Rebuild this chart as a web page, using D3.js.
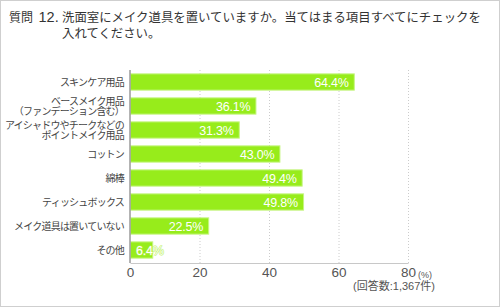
<!DOCTYPE html>
<html>
<head>
<meta charset="utf-8">
<script src="https://cdn.jsdelivr.net/npm/d3@7"></script>
<style>
    body { margin: 0; background: #fff; }
    svg { display: block; font-family: "Liberation Sans", "Noto Sans CJK JP", sans-serif; }
</style>
</head>
<body>
<div id="chart"></div>
<script>
const questionNo = "12.";
const questionLines = ["洗面室にメイク道具を置いていますか。当てはまる項目すべてにチェックを", "入れてください。"];
const categories = [
    "スキンケア用品",
    "ベースメイク用品\n（ファンデーション含む）",
    "アイシャドウやチークなどの\nポイントメイク用品",
    "コットン",
    "綿棒",
    "ティッシュボックス",
    "メイク道具は置いていない",
    "その他"
];
const values = [64.4, 36.1, 31.3, 43.0, 49.4, 49.8, 22.5, 6.4];
const ticks = [0, 20, 40, 60, 80];
const unitLabel = "(%)";
const countLabel = "(回答数:1,367件)";

document.addEventListener('DOMContentLoaded', () => {
    let width = 500, height = 308;
    let left = 130, right = 408, top = 70, bottom = 262;

    let svg = d3.select("#chart")
        .append("svg")
        .attr("width", width)
        .attr("height", height);

    // frame
    svg.append("rect")
        .attr("x", 0.5).attr("y", 0.5)
        .attr("width", width - 1).attr("height", 306)
        .attr("fill", "#fff")
        .attr("stroke", "#cfcfcf");

    // title
    let title = svg.append("g").attr("fill", "#333");
    title.append("text").attr("x", 9).attr("y", 21.5)
        .attr("font-size", 12).text("質問");
    title.append("text").attr("x", 38.5).attr("y", 21.5)
        .attr("font-size", 14.5).text(questionNo);
    questionLines.forEach((t, i) => {
        title.append("text")
            .attr("x", 62).attr("y", 21.5 + i * 16.5)
            .attr("font-size", 12.4)
            .text(t);
    });

    let x = d3.scaleLinear()
        .domain([0, 80])
        .range([left, right]);

    let y = d3.scaleBand()
        .domain(categories)
        .range([top, bottom])
        .paddingInner(0.28)
        .paddingOuter(0.14);

    // dotted grid
    svg.append("g")
        .selectAll("line")
        .data(ticks.slice(1))
        .join("line")
        .attr("x1", d => x(d) + 0.5).attr("x2", d => x(d) + 0.5)
        .attr("y1", top).attr("y2", bottom + 1)
        .attr("stroke", "#cccccc")
        .attr("stroke-dasharray", "1,2");

    // bottom axis
    let xAxis = svg.append("g")
        .attr("transform", "translate(0," + (bottom + 1) + ")")
        .call(d3.axisBottom(x).tickValues(ticks).tickSize(0).tickPadding(4));
    xAxis.select(".domain").attr("stroke", "#c8c8c8").attr("stroke-width", 1.2);
    xAxis.selectAll("text")
        .attr("font-size", 13.5)
        .attr("fill", "#555")
        .attr("font-family", "Liberation Sans, sans-serif");

    svg.append("text")
        .attr("x", right + 10).attr("y", 278)
        .attr("font-size", 9).attr("fill", "#555")
        .text(unitLabel);
    svg.append("text")
        .attr("x", 435).attr("y", 289.5)
        .attr("text-anchor", "end")
        .attr("font-size", 11).attr("fill", "#555")
        .text(countLabel);

    // bars
    svg.append("g")
        .selectAll("rect")
        .data(values)
        .join("rect")
        .attr("x", left + 0.5)
        .attr("y", (d, i) => y(categories[i]) + 0.5)
        .attr("width", d => x(d) - x(0))
        .attr("height", y.bandwidth() - 1)
        .attr("fill", "#97ec1b")
        .attr("stroke", "#c6f582")
        .attr("stroke-width", 1);

    // value labels; the short bar's label gets a faint green edge so the overflow still shows
    svg.append("g")
        .selectAll("text")
        .data(values)
        .join("text")
        .attr("x", d => d < 15 ? x(0) + 6 : x(d) - 5)
        .attr("y", (d, i) => y(categories[i]) + y.bandwidth() / 2)
        .attr("dy", "0.36em")
        .attr("text-anchor", d => d < 15 ? "start" : "end")
        .attr("font-size", 12.5)
        .attr("letter-spacing", -0.2)
        .attr("fill", "#fff")
        .attr("stroke", d => d < 15 ? "#b8f05a" : "none")
        .attr("stroke-width", 1)
        .attr("paint-order", "stroke")
        .text(d => d.toFixed(1) + "%");

    // vertical axis line
    svg.append("line")
        .attr("x1", left).attr("x2", left)
        .attr("y1", top).attr("y2", bottom + 1)
        .attr("stroke", "#9a9a9a")
        .attr("stroke-width", 1.5);

    // category labels
    let cats = svg.append("g")
        .selectAll("text")
        .data(categories)
        .join("text")
        .attr("text-anchor", "end")
        .attr("font-size", 10)
        .attr("letter-spacing", -0.8)
        .attr("fill", "#444");
    cats.each(function(c) {
        let lines = c.split("\n");
        let cy = y(c) + y.bandwidth() / 2;
        lines.forEach((t, i) => {
            d3.select(this).append("tspan")
                .attr("x", 124)
                .attr("y", cy + (i - (lines.length - 1) / 2) * 10)
                .attr("dy", "0.36em")
                .text(t);
        });
    });
});
</script>
</body>
</html>
